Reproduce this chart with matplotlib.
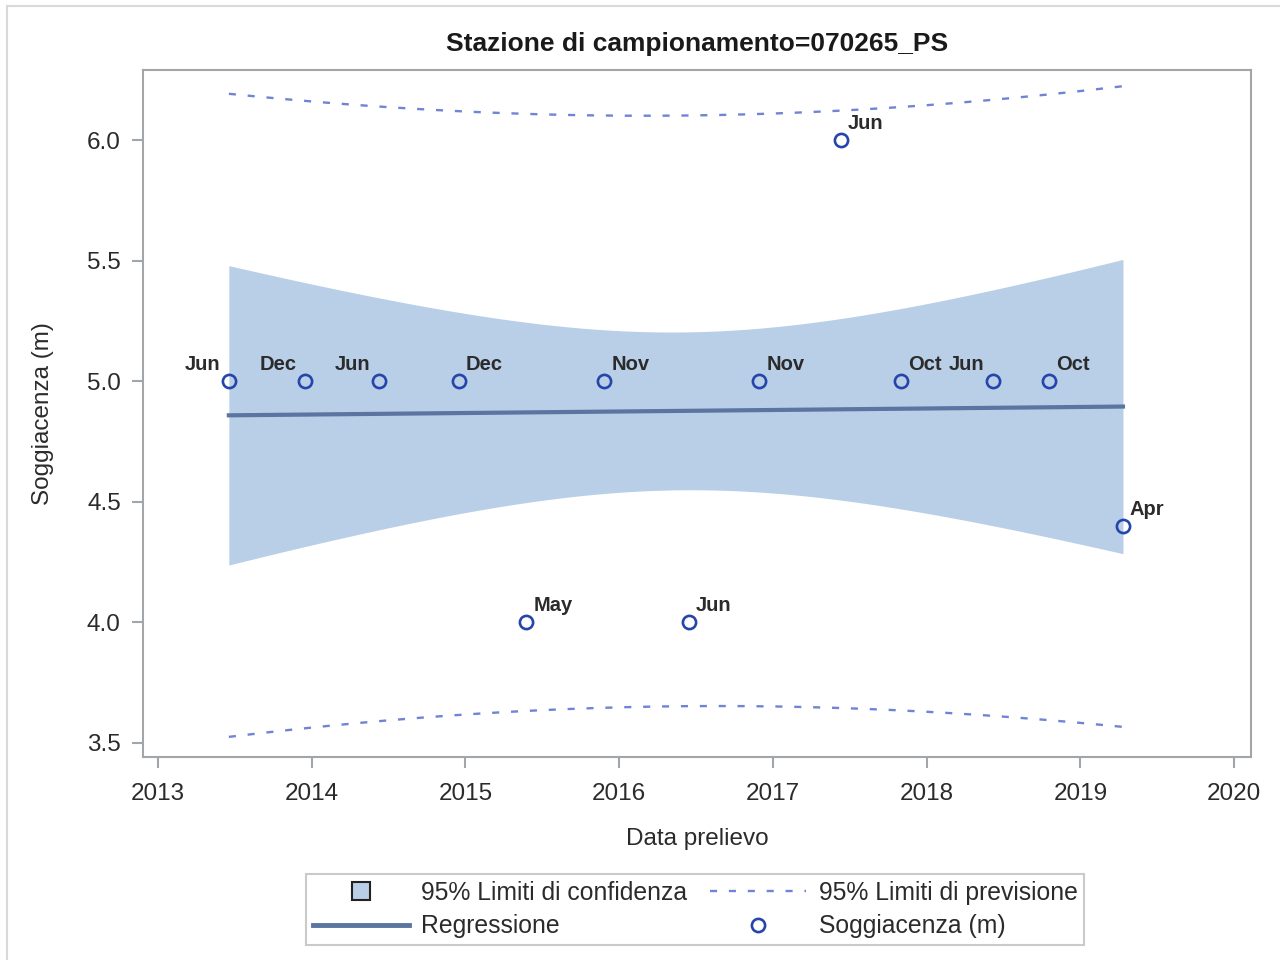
import numpy as np
import pandas as pd
import matplotlib
matplotlib.use('Agg')
import matplotlib.pyplot as plt
import matplotlib.dates as mdates
from matplotlib.lines import Line2D

plt.rcParams['font.family'] = ['Liberation Sans', 'DejaVu Sans']

# dati
dates = ['2013-06-18', '2013-12-15', '2014-06-09', '2014-12-16', '2015-05-26',
         '2015-11-27', '2016-06-15', '2016-11-29', '2017-06-11', '2017-10-31',
         '2018-06-07', '2018-10-18', '2019-04-12']
sogg = [5.0, 5.0, 5.0, 5.0, 4.0, 5.0, 4.0, 5.0, 6.0, 5.0, 5.0, 5.0, 4.4]
label_side = ['l', 'l', 'l', 'r', 'r', 'r', 'r', 'r', 'r', 'r', 'l', 'r', 'r']
years = list(range(2013, 2021))
yticks = [3.5, 4.0, 4.5, 5.0, 5.5, 6.0]

c_band = '#B9CFE7'
c_line = '#5B74A0'
c_pred = '#6F84D2'
c_mark = '#2545AA'
c_text = '#2B2B2B'
c_axis = '#A3A6A9'

d = pd.to_datetime(dates)
x = mdates.date2num(d)
y = np.array(sogg)
months = d.strftime('%b')

# regressione lineare con limiti al 95%
n = len(x)
b1, b0 = np.polyfit(x, y, 1)
res = y - (b0 + b1 * x)
s = np.sqrt(np.sum(res ** 2) / (n - 2))
t = 2.201  # t(0.975, 11)
xs = np.linspace(x.min(), x.max(), 300)
fit = b0 + b1 * xs
h = 1 / n + (xs - x.mean()) ** 2 / np.sum((x - x.mean()) ** 2)
ci = t * s * np.sqrt(h)
pi = t * s * np.sqrt(1 + h)

fig = plt.figure(figsize=(12.8, 9.6), dpi=100)
ax = fig.add_axes([0.1117, 0.2115, 0.8656, 0.7155])

ax.fill_between(xs, fit - ci, fit + ci, color=c_band, lw=0, zorder=1)
ax.plot(xs, fit, color=c_line, lw=3, zorder=2)
ax.plot(xs, fit + pi, color=c_pred, lw=1.7, dashes=(3, 5), zorder=2)
ax.plot(xs, fit - pi, color=c_pred, lw=1.7, dashes=(3, 5), zorder=2)
ax.plot(x, y, 'o', ms=9.5, mfc='none', mec=c_mark, mew=1.9, zorder=3)

for xi, yi, m, side in zip(x, y, months, label_side):
    if side == 'l':
        ax.annotate(m, (xi, yi), xytext=(-6, 5), textcoords='offset points',
                    ha='right', va='bottom', fontsize=14.5, fontweight='bold',
                    color=c_text)
    else:
        ax.annotate(m, (xi, yi), xytext=(5, 5), textcoords='offset points',
                    ha='left', va='bottom', fontsize=14.5, fontweight='bold',
                    color=c_text)

ax.set_xlim(mdates.date2num(pd.Timestamp('2012-11-26')),
            mdates.date2num(pd.Timestamp('2020-02-10')))
ax.set_ylim(3.442, 6.29)
ax.set_xticks([mdates.date2num(pd.Timestamp(f'{yr}-01-01')) for yr in years])
ax.set_xticklabels([str(yr) for yr in years])
ax.set_yticks(yticks)
ax.set_yticklabels([f'{v:.1f}' for v in yticks])

for sp in ax.spines.values():
    sp.set_color(c_axis)
    sp.set_linewidth(1.5)
ax.tick_params(length=8, width=1.5, color=c_axis, labelsize=17.5, labelcolor=c_text)
ax.tick_params(axis='x', pad=11)
ax.tick_params(axis='y', pad=8)

ax.set_xlabel('Data prelievo', fontsize=17.5, color=c_text, labelpad=16)
ax.set_ylabel('Soggiacenza (m)', fontsize=17.5, color=c_text, labelpad=24)
ax.set_title('Stazione di campionamento=070265_PS', fontsize=19, fontweight='bold',
             color='#1A1A1A', pad=14)

handles = [
    Line2D([], [], ls='none', marker='s', ms=13, mfc=c_band, mec='#222222', mew=1.5),
    Line2D([], [], color=c_line, lw=3.5),
    Line2D([], [], color=c_pred, lw=1.7, dashes=(3, 5)),
    Line2D([], [], ls='none', marker='o', ms=9.5, mfc='none', mec=c_mark, mew=1.9),
]
labels = ['95% Limiti di confidenza', 'Regressione',
          '95% Limiti di previsione', 'Soggiacenza (m)']
leg = fig.legend(handles, labels, ncol=2, loc='center', bbox_to_anchor=(0.543, 0.0526),
                 fontsize=17.8, frameon=True, fancybox=False, edgecolor='#BDBDBD',
                 handlelength=3.9, handletextpad=0.5, columnspacing=0.9,
                 labelspacing=0.4, borderpad=0.25)
leg.get_frame().set_linewidth(1.5)
for txt in leg.get_texts():
    txt.set_color(c_text)

# cornice esterna grigia
fig.add_artist(Line2D([7 / 1280, 7 / 1280], [0, 1 - 6 / 960], transform=fig.transFigure,
                      color='#D9D9D9', lw=1.5))
fig.add_artist(Line2D([7 / 1280, 1], [1 - 6 / 960, 1 - 6 / 960], transform=fig.transFigure,
                      color='#D9D9D9', lw=1.5))

fig.savefig('out.png', dpi=100)
